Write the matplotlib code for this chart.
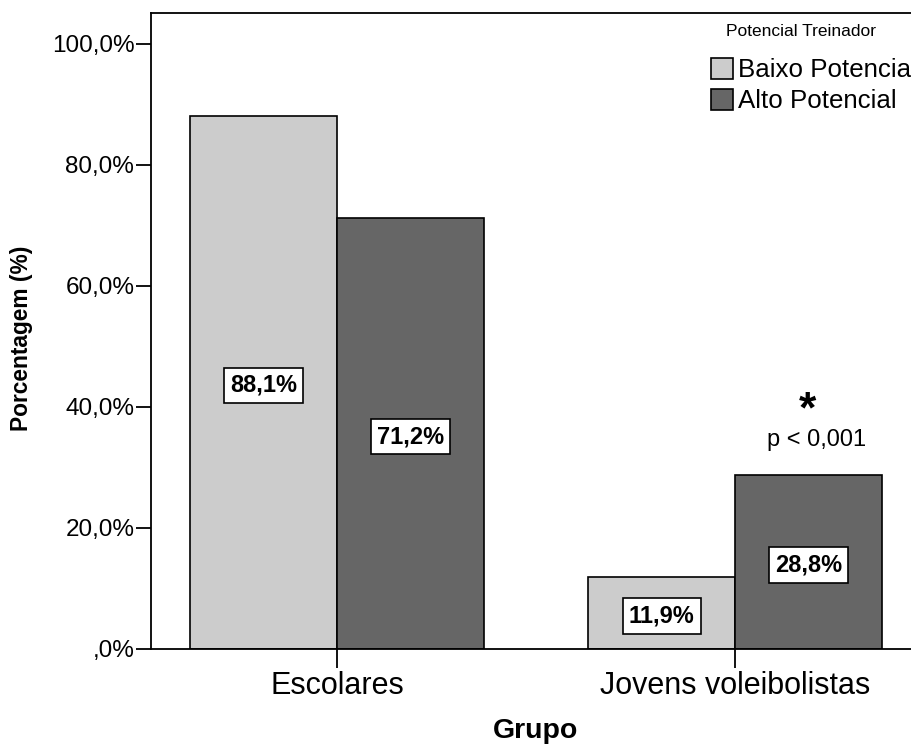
import matplotlib
matplotlib.use('Agg')
import matplotlib.pyplot as plt
import numpy as np
from matplotlib.patches import Patch

plt.rcParams['font.family'] = ['Liberation Sans', 'DejaVu Sans']

groups = ['Escolares', 'Jovens voleibolistas']
series = ['Baixo Potencial', 'Alto Potencial']
baixo = [88.1, 11.9]
alto = [71.2, 28.8]
labels_baixo = ['88,1%', '11,9%']
labels_alto = ['71,2%', '28,8%']
yticks = [0, 20, 40, 60, 80, 100]
ytick_labels = [',0%', '20,0%', '40,0%', '60,0%', '80,0%', '100,0%']
colors = ['#cccccc', '#666666']

W, H = 912, 744
fig = plt.figure(figsize=(W / 100, H / 100), dpi=100)
# axes run a little past the right edge, as in the original export
ax = fig.add_axes([151 / W, 1 - 649 / H, (921 - 151) / W, (649 - 13) / H])

x = np.arange(len(groups))
w = 0.369
b1 = ax.bar(x - w / 2, baixo, w, color=colors[0], edgecolor='black', linewidth=1.2, label=series[0])
b2 = ax.bar(x + w / 2, alto, w, color=colors[1], edgecolor='black', linewidth=1.2, label=series[1])

box = dict(facecolor='white', edgecolor='black', linewidth=1.2, pad=4.5)
for bars, labs in [(b1, labels_baixo), (b2, labels_alto)]:
    for r, t in zip(bars, labs):
        ax.text(r.get_x() + r.get_width() / 2, r.get_height() / 2 - 0.5, t, ha='center', va='center',
                fontsize=17, fontweight='bold', bbox=box)

# significance mark over the Jovens / Alto bar
sig = b2[1]
cx = sig.get_x() + sig.get_width() / 2
ax.text(cx - 0.003, sig.get_height() + 10.6, '*', ha='center', va='center', fontsize=32, fontweight='bold')
ax.text(cx + 0.02, sig.get_height() + 5.7, 'p < 0,001', ha='center', va='center', fontsize=17)

ax.set_xlim(-0.467, 1.467)
ax.set_ylim(0, 105.1)
ax.set_yticks(yticks)
ax.set_yticklabels(ytick_labels, fontsize=17.5)
ax.set_xticks(x)
ax.set_xticklabels(groups, fontsize=22)
ax.tick_params(axis='y', length=11, width=1.3, pad=1, direction='out')
ax.tick_params(axis='x', length=14, width=1.3, pad=2, direction='out')
for s in ax.spines.values():
    s.set_linewidth(1.3)

fig.text(22 / W, 1 - 338 / H, 'Porcentagem (%)', rotation=90, ha='center', va='center',
         fontsize=16.4, fontweight='bold')
fig.text(536 / W, 1 - 731 / H, 'Grupo', ha='center', va='center', fontsize=20.5, fontweight='bold')

fig.text(801 / W, 1 - 31 / H, 'Potencial Treinador', ha='center', va='center', fontsize=12.5)
handles = [Patch(facecolor=c, edgecolor='black', linewidth=1.2) for c in colors]
fig.legend(handles, series, loc='upper left', bbox_to_anchor=(711 / W, 1 - 58 / H),
           frameon=False, fontsize=18.6, handlelength=0.85, handleheight=0.85,
           handletextpad=0.2, labelspacing=0.26, borderpad=0, borderaxespad=0)

fig.savefig('out.png', dpi=100)
